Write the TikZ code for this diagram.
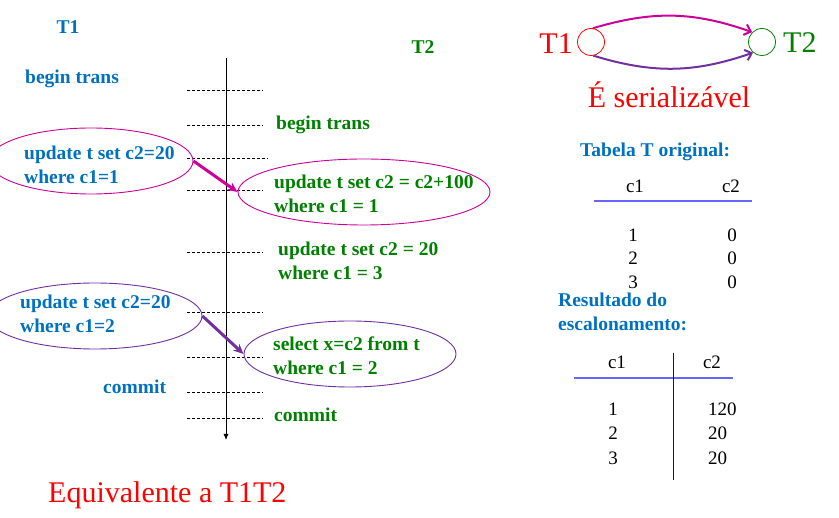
\documentclass[tikz,border=0pt]{standalone}
\usepackage{fontspec}
\setmainfont{Liberation Serif}
\usetikzlibrary{shapes.geometric,arrows.meta}
\definecolor{tblue}{RGB}{0,112,192}
\definecolor{tgreen}{RGB}{0,128,0}
\definecolor{tmag}{RGB}{204,0,153}
\definecolor{tpur}{RGB}{112,48,160}
\definecolor{tline}{RGB}{102,102,255}
\begin{document}
\begin{tikzpicture}[x=1pt, y=-1pt,
   tone/.style={font=\bfseries\fontsize{19.5}{24}\selectfont, text=tblue, anchor=west, align=left, inner sep=0pt},
   ttwo/.style={tone, text=tgreen},
   cell/.style={font=\fontsize{19}{22}\selectfont, inner sep=0pt},
   big/.style={font=\fontsize{30}{34}\selectfont, inner sep=0pt},
   op_ring/.style={ellipse, draw=#1, line width=0.9pt, inner sep=0pt, minimum height=66pt},
   conflict/.style={draw=#1, line width=3pt, -{Stealth[length=10pt,width=9pt]}},
   prec/.style={draw=#1, line width=2pt, -{Straight Barb[length=6pt,width=11pt]}}]
	\useasboundingbox (0,0) rectangle (839,518);
	\clip (0,0) rectangle (839,518);

	% time line
	\draw [line width=0.8pt, -{Latex[length=6pt,width=5pt]}] (226,58) -- (226,440);
	\foreach \y/\x in {90/263, 125/263, 158/268, 190/263, 252/263, 312/263, 357/263, 392/263, 418/263}
	  \draw [densely dashed, line width=0.7pt] (187,\y) -- (\x,\y);

	% operations
	\node [op_ring=tmag, minimum width=204pt] (e1) at (91,161) {};
	\node [op_ring=tmag, minimum width=252pt] (e2) at (364,192) {};
	\node [op_ring=tpur, minimum width=214pt] (e3) at (95,316) {};
	\node [op_ring=tpur, minimum width=212pt] (e4) at (350,354) {};

	\node [tone, anchor=center] (t1) at (68,27) {T1};
	\node [ttwo, anchor=center] (t2) at (423,47) {T2};
	\node [tone] (b1) at (25,79) {begin trans};
	\node [ttwo] (b2) at (276,125) {begin trans};
	\node [tone] (u1) at (24,165) {update t set c2=20\\where c1=1};
	\node [ttwo] (u2) at (274,194) {update t set c2 = c2+100\\where c1 = 1};
	\node [ttwo] (u3) at (278,261) {update t set c2 = 20\\where c1 = 3};
	\node [tone] (u4) at (20,314) {update t set c2=20\\where c1=2};
	\node [ttwo] (s1) at (273,356) {select x=c2 from t\\where c1 = 2};
	\node [tone] (c1) at (103,387) {commit};
	\node [ttwo] (c2) at (274,415) {commit};

	\draw [conflict=tmag] (e1.east) -- (e2.west);
	\draw [conflict=tpur] (e3.east) -- (e4.west);

	\node [big, text=red, anchor=west] (eq) at (48,495) {Equivalente a T1T2};

	% precedence graph
	\node [circle, draw=red, line width=0.8pt, minimum size=27pt, inner sep=0pt] (n1) at (591,42) {};
	\node [circle, draw=tgreen, line width=0.8pt, minimum size=27pt, inner sep=0pt] (n2) at (762,42) {};
	\node [big, text=red, anchor=east] (l1) at (573,44) {T1};
	\node [big, text=tgreen, anchor=west] (l2) at (783,43) {T2};
	\draw [prec=tmag] (n1.82) to [bend left=18] (n2.135);
	\draw [prec=tpur] (n1.-80) to [bend right=18] (n2.-130);
	\node [big, text=red] (ser) at (669,95) {É serializável};

	% tables
	\node [tone] (tab1) at (580,152) {Tabela T original:};
	\node [cell] (h11) at (635,186) {c1};
	\node [cell] (h12) at (731,186) {c2};
	\draw [tline, line width=1.5pt] (594,201) -- (752,201);
	\foreach \a/\b/\y in {1/0/235, 2/0/258, 3/0/282} {
	  \node [cell] (r1\a) at (633,\y) {\a};
	  \node [cell] (v1\a) at (732,\y) {\b};
	}

	\node [tone] (tab2) at (558,312) {Resultado do\\escalonamento:};
	\node [cell] (h21) at (617,362) {c1};
	\node [cell] (h22) at (712,362) {c2};
	\draw [tline, line width=1.5pt] (574,378) -- (733,378);
	\draw [blue, line width=1pt] (673,353) -- (673,480);
	\foreach \a/\b/\y in {1/120/409, 2/20/433, 3/20/458} {
	  \node [cell] (r2\a) at (613,\y) {\a};
	  \node [cell, anchor=west] (v2\a) at (708,\y) {\b};
	}
\end{tikzpicture}
\end{document}
